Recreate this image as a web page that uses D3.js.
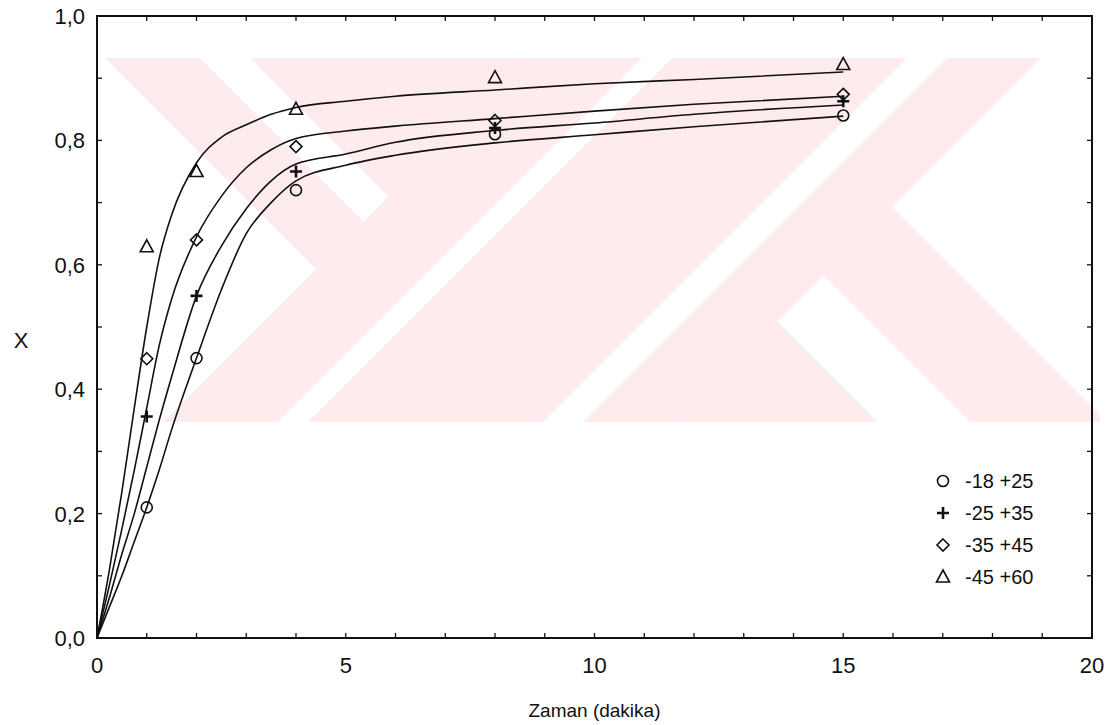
<!DOCTYPE html>
<html>
<head>
<meta charset="utf-8">
<script src="https://cdn.jsdelivr.net/npm/d3@7"></script>
<style>
  body { margin: 0; background: #fff; }
  svg text { font-family: "Liberation Sans", Arial, sans-serif; fill: #111; }
</style>
</head>
<body>
<svg id="chart" width="1111" height="725"></svg>
<script>
// measured points
const times = [1, 2, 4, 8, 15];
const s1 = [0.21, 0.45, 0.72, 0.81, 0.84];   // -18 +25
const s2 = [0.356, 0.55, 0.75, 0.82, 0.863]; // -25 +35
const s3 = [0.449, 0.64, 0.79, 0.832, 0.874]; // -35 +45
const s4 = [0.629, 0.75, 0.85, 0.901, 0.922]; // -45 +60

// fitted curves
const fitT = [0, 0.25, 0.5, 0.75, 1, 1.25, 1.5, 2, 2.5, 3, 3.5, 4, 5, 6, 8, 10, 12, 15];
const fit1 = [0, 0.05, 0.10, 0.155, 0.21, 0.27, 0.335, 0.45, 0.56, 0.65, 0.70, 0.735, 0.76, 0.776, 0.796, 0.809, 0.822, 0.839];
const fit2 = [0, 0.065, 0.135, 0.20, 0.275, 0.35, 0.42, 0.55, 0.63, 0.69, 0.735, 0.762, 0.778, 0.797, 0.816, 0.828, 0.842, 0.857];
const fit3 = [0, 0.085, 0.175, 0.27, 0.37, 0.47, 0.545, 0.645, 0.71, 0.756, 0.785, 0.803, 0.815, 0.823, 0.835, 0.847, 0.858, 0.871];
const fit4 = [0, 0.11, 0.235, 0.37, 0.50, 0.61, 0.68, 0.764, 0.805, 0.825, 0.842, 0.853, 0.863, 0.871, 0.881, 0.891, 0.898, 0.910];

const seriesNames = ['-18 +25', '-25 +35', '-35 +45', '-45 +60'];
const seriesSymbols = ['circle', 'plus', 'diamond', 'triangle'];
const xTicks = [0, 5, 10, 15, 20];
const yTicks = [0, 0.2, 0.4, 0.6, 0.8, 1.0];

const svg = d3.select('#chart');
const m = { left: 97, right: 1092, top: 16, bottom: 638 };

const x = d3.scaleLinear().domain([0, 20]).range([m.left, m.right]);
const y = d3.scaleLinear().domain([0, 1]).range([m.bottom, m.top]);

// watermark (decoration): pink 45-degree bands, u = x - y, v = x + y
const pink = '#fdebee';
const wm = [
  [47, 142, -9999, 585],
  [192, 9999, -9999, 585],
  [-9999, 9999, 585, 700],
  [-9999, 9999, 730, 965],
  [-9999, 9999, 1005, 1099],
  [548, 685, 1099, 9999],
  [-9999, 456, 1099, 9999]
];
svg.append('clipPath').attr('id', 'wmclip')
  .append('rect').attr('x', 105).attr('y', 58).attr('width', 995).attr('height', 364);
const wg = svg.append('g').attr('clip-path', 'url(#wmclip)');
wm.forEach(([u0, u1, v0, v1]) => {
  const pts = [[u0, v0], [u1, v0], [u1, v1], [u0, v1]].map(([u, v]) => [(u + v) / 2, (v - u) / 2]);
  wg.append('polygon').attr('points', pts.map(p => p.join(',')).join(' ')).attr('fill', pink);
});

// minor ticks inside the frame
const tickLen = 5;
const g = svg.append('g').attr('stroke', '#111').attr('stroke-width', 1.3);
d3.range(0, 21, 1).forEach(t => {
  g.append('line').attr('x1', x(t)).attr('x2', x(t)).attr('y1', m.bottom).attr('y2', m.bottom - tickLen);
  g.append('line').attr('x1', x(t)).attr('x2', x(t)).attr('y1', m.top).attr('y2', m.top + tickLen);
});
d3.range(0, 11, 1).forEach(i => {
  const v = i / 10;
  g.append('line').attr('y1', y(v)).attr('y2', y(v)).attr('x1', m.left).attr('x2', m.left + tickLen);
  g.append('line').attr('y1', y(v)).attr('y2', y(v)).attr('x1', m.right).attr('x2', m.right - tickLen);
});

// frame
svg.append('rect')
  .attr('x', m.left).attr('y', m.top)
  .attr('width', m.right - m.left).attr('height', m.bottom - m.top)
  .attr('fill', 'none').attr('stroke', '#111').attr('stroke-width', 2);

// tick labels
const fmt = d => d3.format('.1f')(d).replace('.', ',');
svg.append('g').selectAll('text').data(yTicks).join('text')
  .attr('x', 85).attr('y', d => y(d) + 8)
  .attr('text-anchor', 'end').attr('font-size', 22)
  .text(fmt);
svg.append('g').selectAll('text').data(xTicks).join('text')
  .attr('x', d => x(d)).attr('y', m.bottom + 35)
  .attr('text-anchor', 'middle').attr('font-size', 22)
  .text(d => d);

// axis titles
svg.append('text').attr('x', (m.left + m.right) / 2).attr('y', 717)
  .attr('text-anchor', 'middle').attr('font-size', 19).text('Zaman (dakika)');
svg.append('text').attr('x', 21).attr('y', 348)
  .attr('text-anchor', 'middle').attr('font-size', 22).text('X');

// curves
const line = d3.line().x(d => x(d[0])).y(d => y(d[1])).curve(d3.curveMonotoneX);
[fit1, fit2, fit3, fit4].forEach(f => {
  svg.append('path')
    .datum(fitT.map((t, i) => [t, f[i]]))
    .attr('d', line)
    .attr('fill', 'none').attr('stroke', '#111').attr('stroke-width', 1.6);
});

// marker drawing
function marker(sel, type, cx, cy) {
  if (type === 'circle') {
    sel.append('circle').attr('cx', cx).attr('cy', cy).attr('r', 5.5)
      .attr('fill', 'none').attr('stroke', '#111').attr('stroke-width', 1.6);
  } else if (type === 'plus') {
    sel.append('path').attr('d', `M${cx - 6},${cy}H${cx + 6}M${cx},${cy - 6}V${cy + 6}`)
      .attr('stroke', '#111').attr('stroke-width', 2.6);
  } else if (type === 'diamond') {
    sel.append('path').attr('d', `M${cx},${cy - 6}L${cx + 6},${cy}L${cx},${cy + 6}L${cx - 6},${cy}Z`)
      .attr('fill', 'none').attr('stroke', '#111').attr('stroke-width', 1.6);
  } else {
    sel.append('path').attr('d', `M${cx},${cy - 7}L${cx + 6.5},${cy + 5}L${cx - 6.5},${cy + 5}Z`)
      .attr('fill', 'none').attr('stroke', '#111').attr('stroke-width', 1.6);
  }
}

const mk = svg.append('g');
[s1, s2, s3, s4].forEach((s, k) => {
  s.forEach((v, i) => marker(mk, seriesSymbols[k], x(times[i]), y(v)));
});

// legend
const lg = svg.append('g');
seriesNames.forEach((name, k) => {
  const ly = 481 + k * 32;
  marker(lg, seriesSymbols[k], 943, ly);
  lg.append('text').attr('x', 965).attr('y', ly + 7).attr('font-size', 20).text(name);
});
</script>
</body>
</html>
